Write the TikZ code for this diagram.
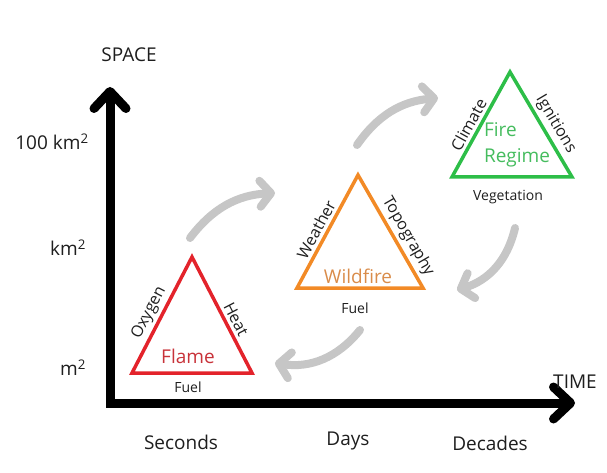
\documentclass[tikz,border=0pt]{standalone}
\usepackage{fontspec}
\setmainfont{Open Sans}
\usetikzlibrary{arrows.meta}
\definecolor{flamered}{HTML}{E3232B}
\definecolor{flametext}{HTML}{C8333A}
\definecolor{wildorange}{HTML}{F28A26}
\definecolor{wildtext}{HTML}{D98C4A}
\definecolor{regimegreen}{HTML}{2DBE48}
\definecolor{regimetext}{HTML}{45BC5E}
\definecolor{flowgray}{HTML}{C6C6C6}
\definecolor{ink}{HTML}{1E1E1E}
\begin{document}
\begin{tikzpicture}[x=1pt,y=-1pt,
    axis/.style={line width=9pt,line join=miter,
      {Straight Barb[round,length=17pt,width=32pt]}-{Straight Barb[round,length=17pt,width=32pt]}},
    flow/.style={line width=8pt,draw=flowgray,line cap=round,
      -{Straight Barb[round,length=11pt,width=26pt]}},
    tri/.style={line width=3.5pt,line join=miter},
    side/.style={sloped,above,inner sep=3pt,text=ink,font=\fontsize{16}{19}\selectfont},
    lbl/.style={text=ink,font=\fontsize{19}{23}\selectfont},
    small/.style={text=ink,font=\fontsize{14}{17}\selectfont}]
  \useasboundingbox (0,0) rectangle (607,473);
  \coordinate (origin) at (110,403);
  \coordinate (ytip) at (110,87);
  \coordinate (xtip) at (575,403);
  \draw[axis] (ytip) -- (origin) -- (xtip);
  \node[lbl] (space) at (129,55) {SPACE};
  \node[lbl] (time) at (575,382) {TIME};
  \node[lbl] (hundred) at (52,142) {100 km\textsuperscript{2}};
  \node[lbl] (km) at (68,248) {km\textsuperscript{2}};
  \node[lbl] (m) at (73,368) {m\textsuperscript{2}};
  \node[lbl] (seconds) at (181,442) {Seconds};
  \node[lbl] (days) at (348,441) {Days};
  \node[lbl] (decades) at (490,443) {Decades};
  \coordinate (fa) at (192,257);
  \coordinate (fl) at (132,373);
  \coordinate (fr) at (252,373);
  \draw[tri,draw=flamered] (fl) -- node[side,pos=0.47] (oxygen) {Oxygen} (fa)
    -- node[side,pos=0.58] (heat) {Heat} (fr) -- cycle;
  \node[lbl,text=flametext] (flame) at (188,356) {Flame};
  \node[small] (fuel1) at (188,387) {Fuel};
  \coordinate (wa) at (358,175);
  \coordinate (wl) at (297,288);
  \coordinate (wr) at (423,288);
  \draw[tri,draw=wildorange] (wl) -- node[side,pos=0.47] (weather) {Weather} (wa)
    -- node[side,pos=0.6] (topography) {Topography} (wr) -- cycle;
  \node[lbl,text=wildtext] (wildfire) at (358,276) {Wildfire};
  \node[small] (fuel2) at (355,308) {Fuel};
  \coordinate (ga) at (510,72);
  \coordinate (gl) at (452,177);
  \coordinate (gr) at (572,177);
  \draw[tri,draw=regimegreen] (gl) -- node[side,pos=0.45] (climate) {Climate} (ga)
    -- node[side,pos=0.56] (ignitions) {Ignitions} (gr) -- cycle;
  \node[lbl,text=regimetext,align=left,font=\fontsize{19}{26}\selectfont] (regime) at (517,145) {Fire\\Regime};
  \node[small] (vegetation) at (508,197) {Vegetation};
  \coordinate (s1) at (190,238);
  \coordinate (e1) at (275,193);
  \coordinate (s2) at (357,145);
  \coordinate (e2) at (438,98);
  \coordinate (s3) at (515,228);
  \coordinate (e3) at (457,290);
  \coordinate (s4) at (360,330);
  \coordinate (e4) at (275,363);
  \draw[flow] (s1) to[bend left=25] (e1);
  \draw[flow] (s2) to[bend left=25] (e2);
  \draw[flow] (s3) to[bend left=30] (e3);
  \draw[flow] (s4) to[bend left=30] (e4);
\end{tikzpicture}
\end{document}
